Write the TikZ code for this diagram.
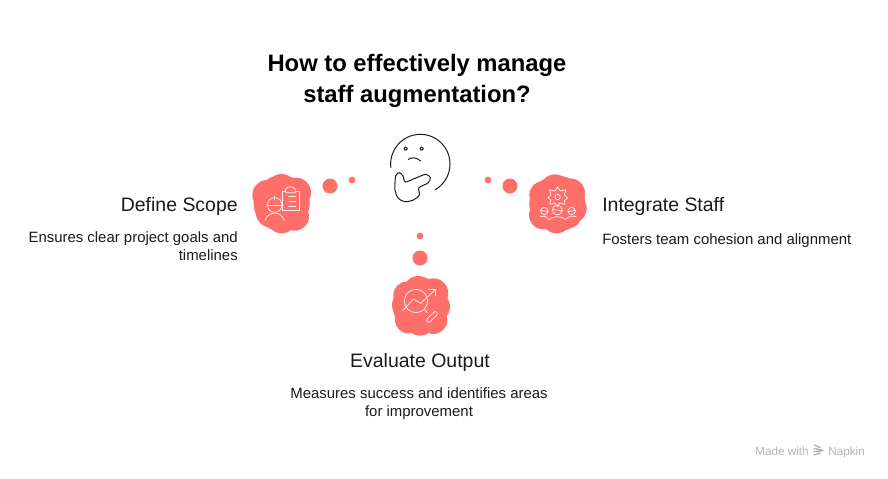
\documentclass[tikz,border=0pt]{standalone}
\usepackage{fontspec}
\setmainfont{Liberation Sans}
\definecolor{coral}{HTML}{FF6F69}
\definecolor{inkc}{HTML}{1A1A1A}
\tikzset{
  blob/.style={fill=coral,draw=none},
  dotc/.style={fill=coral,draw=none},
  icon/.style={draw=white,line width=0.55pt,line cap=round,line join=round,opacity=.9},
  face/.style={draw=inkc,line width=0.75pt,line cap=round,line join=round},
  titletext/.style={font=\bfseries\fontsize{17.85}{22}\selectfont,text=black,anchor=base,inner sep=0pt},
  headtext/.style={font=\fontsize{14.6}{18}\selectfont,text=inkc,inner sep=0pt},
  desctext/.style={font=\fontsize{11.2}{13.5}\selectfont,text=inkc,inner sep=0pt},
  marktext/.style={font=\fontsize{8.8}{10}\selectfont,text=black!30,inner sep=0pt,anchor=base west}
}
\begin{document}
\begin{tikzpicture}[x=0.75pt,y=-0.75pt]
\useasboundingbox (0,0) rectangle (888,478);
% title
\node[titletext] (title1) at (417,72) {How to effectively manage};
\node[titletext] (title2) at (417,102) {staff augmentation?};
% dots
\fill[dotc] (330,186) circle (7.5);
\fill[dotc] (352,180) circle (3.4);
\fill[dotc] (488,180) circle (3.4);
\fill[dotc] (510,186) circle (7.5);
\fill[dotc] (420,236) circle (3.4);
\fill[dotc] (420,258) circle (7.5);
% thinking face (zoom coordinates)
\begin{scope}[shift={(370,125)},x=0.25pt,y=-0.25pt]
\draw[face] plot[domain=173:420,samples=50,smooth] ({151+89*cos(\x)},{117+89*sin(\x)});
\draw[face] plot[smooth cycle,tension=0.5] coordinates {(77,153) (88,143) (99,153) (106,171) (135,160) (167,148) (181,158) (174,174) (147,188) (148,210) (130,225) (105,230) (85,220) (75,195)};
\fill[inkc] (107,71) circle (6);
\fill[white] (107,71) circle (2.6);
\fill[inkc] (155,71) circle (6);
\fill[white] (155,71) circle (2.6);
\draw[face] (115,103) .. controls (125,96) and (140,97) .. (152,108);
\end{scope}
% left blob and icon
\begin{scope}[shift={(240,120)},x=0.25pt,y=-0.25pt]
\fill[blob] (125,207) circle (45) (82,225) circle (45) (168,218) circle (45) (90,280) circle (42) (165,290) circle (42) (125,295) circle (45) (125,250) circle (84);
\draw[icon] (137,213) -- (127,213) -- (127,272) -- (178,272) -- (178,213) -- (167,213);
\draw[icon] (137,218) -- (137,208) .. controls (140,198) and (162,198) .. (166,208) -- (166,218) -- cycle;
\draw[icon] (146,230) -- (167,230) (146,244) -- (167,244) (146,258) -- (167,258);
\draw[icon] (104,255) circle (22);
\draw[icon] (80,255) -- (126,255);
\draw[icon] (104,228) -- (104,238);
\draw[icon] (75,301) .. controls (85,272) and (122,272) .. (133,301);
\end{scope}
% right blob and icon
\begin{scope}[shift={(475,165)},x=0.25pt,y=-0.25pt]
\fill[blob] (240,73) circle (45) (205,90) circle (42) (285,85) circle (45) (290,130) circle (45) (205,150) circle (43) (245,160) circle (45) (280,150) circle (40) (247,116) circle (84);
\draw[icon] plot[smooth cycle,tension=0.7] coordinates {(248,66) (256,78) (272,75) (268,90) (278,98) (268,107) (270,118) (254,114) (248,125) (240,114) (224,118) (228,106) (219,98) (228,90) (224,75) (240,78)};
\draw[icon] (248,96) circle (8);
\draw[icon] (208,138) circle (11);
\draw[icon] (247,135) circle (15);
\draw[icon] (290,138) circle (11);
\draw[icon] (197,136) -- (219,140) (232,133) -- (262,138) (279,140) -- (301,136);
\draw[icon] (196,155) .. controls (205,152) and (212,152) .. (222,164) .. controls (232,152) and (262,152) .. (272,164) .. controls (282,152) and (290,152) .. (302,155);
\end{scope}
% bottom blob and icon
\begin{scope}[shift={(380,225)},x=0.25pt,y=-0.25pt]
\fill[blob] (115,198) circle (45) (160,205) circle (45) (80,210) circle (40) (82,240) circle (46) (165,245) circle (45) (85,285) circle (40) (120,287) circle (45) (160,285) circle (42) (122,242) circle (84);
\draw[icon] (108,228) circle (35);
\draw[icon] (68,257) -- (100,222) -- (122,235) -- (166,194);
\draw[icon] (145,192) -- (167,192) -- (167,213);
\draw[icon] (134,254) -- (141,262);
\draw[icon,rounded corners=1.5pt,rotate around={45:(156,276)}] (136,270) rectangle (176,282);
\end{scope}
% labels
\node[headtext,anchor=base east] (defhead) at (238,211) {Define Scope};
\node[desctext,anchor=base east] (defd1) at (238,242) {Ensures clear project goals and};
\node[desctext,anchor=base east] (defd2) at (238,260) {timelines};
\node[headtext,anchor=base west] (inthead) at (602,211) {Integrate Staff};
\node[desctext,anchor=base west] (intd1) at (602,244) {Fosters team cohesion and alignment};
\node[headtext,anchor=base] (evhead) at (420,367) {Evaluate Output};
\node[desctext,anchor=base] (evd1) at (419,398) {Measures success and identifies areas};
\node[desctext,anchor=base] (evd2) at (419,416) {for improvement};
% watermark
\node[marktext] (madewith) at (755,455) {Made with};
\node[marktext] (napkin) at (828,455) {Napkin};
\begin{scope}[shift={(745,435)},x=0.25pt,y=-0.25pt]
\draw[black!30,line width=1pt,line cap=round] (208,30) -- (226,38) (207,40) -- (234,46) (207,50) -- (234,47) (208,60) -- (226,54);
\end{scope}
\end{tikzpicture}
\end{document}
